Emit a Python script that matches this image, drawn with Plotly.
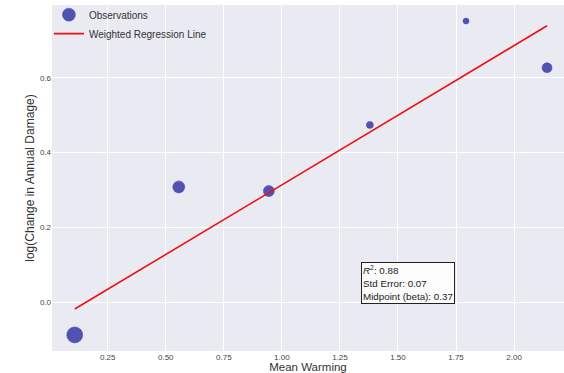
import plotly.graph_objects as go
import numpy as np

mean_warming = [0.108, 0.556, 0.944, 1.379, 1.793, 2.142]
log_damage = [-0.088, 0.308, 0.297, 0.474, 0.752, 0.627]
marker_sizes = [16, 12, 11, 7, 6, 10]
slope = 0.3727
intercept = -0.059
r2 = 0.88
std_err = 0.07
beta = 0.37

xl = np.array([min(mean_warming), max(mean_warming)])
yl = intercept + slope * xl

FONT = "Liberation Sans, Arial, sans-serif"
MCOL = "rgb(82,82,178)"
fig = go.Figure()
fig.add_trace(go.Scatter(
    x=mean_warming, y=log_damage, mode="markers", name="Observations", showlegend=False,
    marker=dict(size=marker_sizes, color=MCOL, opacity=1, line=dict(width=0.5, color="rgb(70,70,160)")),
))
fig.add_trace(go.Scatter(
    x=[None], y=[None], mode="markers", name="Observations",
    marker=dict(size=13, color=MCOL, line=dict(width=0.5, color="rgb(70,70,160)")),
))
fig.add_trace(go.Scatter(
    x=xl, y=yl, mode="lines", name="Weighted Regression Line",
    line=dict(color="#ee1111", width=1.6),
))
fig.add_annotation(
    x=1.341, y=-0.004, xref="x", yref="y", xanchor="left", yanchor="bottom",
    text=f"<i>R</i><sup>2</sup>: {r2:.2f}<br>Std Error: {std_err:.2f}<br>Midpoint (beta): {beta:.2f}",
    showarrow=False, align="left", font=dict(family=FONT, size=9.8, color="#222"),
    bgcolor="rgba(255,255,255,0.85)", bordercolor="#222", borderwidth=1, borderpad=1,
)
fig.update_layout(
    width=564, height=373, margin=dict(l=52, r=0, t=5, b=22),
    paper_bgcolor="white", plot_bgcolor="#EAEAF2",
    font=dict(family=FONT, color="#333"),
    legend=dict(x=-0.006, y=1.014, xanchor="left", yanchor="top", bgcolor="rgba(0,0,0,0)",
                font=dict(size=10, color="#333"), itemwidth=30, tracegroupgap=0),
    showlegend=True,
)
fig.update_xaxes(range=[0.01, 2.215], tickvals=[0.25, 0.5, 0.75, 1.0, 1.25, 1.5, 1.75, 2.0],
                 ticktext=["0.25", "0.50", "0.75", "1.00", "1.25", "1.50", "1.75", "2.00"],
                 gridcolor="white", gridwidth=1, zeroline=False, showline=False, automargin=False,
                 tickfont=dict(size=8, color="#444"), ticks="",
                 title=dict(text="Mean Warming", font=dict(size=11.5, color="#333"), standoff=4))
fig.update_yaxes(range=[-0.131, 0.795], tickvals=[0.0, 0.2, 0.4, 0.6],
                 ticktext=["0.0", "0.2", "0.4", "0.6"],
                 gridcolor="white", gridwidth=1, zeroline=False, showline=False, automargin=False,
                 tickfont=dict(size=8, color="#444"), ticks="",
                 title=dict(text="log(Change in Annual Damage)", font=dict(size=12, color="#333"), standoff=2))
fig.write_html("out.html")
